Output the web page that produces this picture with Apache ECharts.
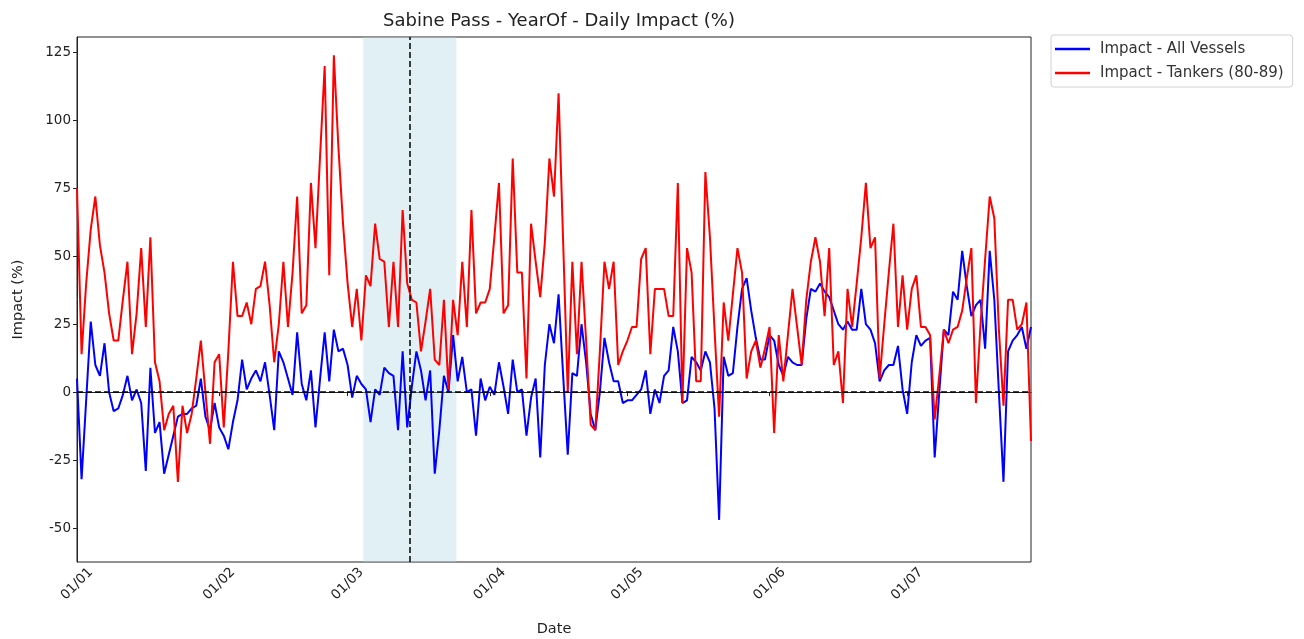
<!DOCTYPE html>
<html>
<head>
<meta charset="utf-8">
<script src="https://cdn.jsdelivr.net/npm/echarts@6/dist/echarts.min.js"></script>
<style>
html,body{margin:0;padding:0;background:#fff;}
#chart{width:1304px;height:639px;}
</style>
</head>
<body>
<div id="chart"></div>
<script>
// ---- data ----
const startYear = 2023, startMonth = 0, startDay = 1; // first daily point: 2023-01-01
const allVessels = [
  5, -32, -3, 26, 10, 6, 18, 0, -7, -6,
  -1, 6, -3, 1, -4, -29, 9, -15, -11, -30,
  -23, -16, -9, -8, -8, -6, -5, 5, -9, -14,
  -4, -13, -16, -21, -11, -3, 12, 1, 5, 8,
  4, 11, -1, -14, 15, 11, 5, -1, 22, 3,
  -3, 8, -13, 5, 22, 4, 23, 15, 16, 10,
  -2, 6, 3, 1, -11, 1, -1, 9, 7, 6,
  -14, 15, -13, 2, 15, 8, -3, 8, -30, -14,
  6, 0, 21, 4, 13, 0, 1, -16, 5, -3,
  2, -1, 11, 2, -8, 12, 0, 1, -16, -2,
  5, -24, 10, 25, 18, 36, 6, -23, 7, 6,
  25, 11, -8, -14, 0, 20, 11, 4, 4, -4,
  -3, -3, -1, 1, 8, -8, 1, -4, 6, 8,
  24, 15, -4, -3, 13, 11, 8, 15, 11, -6,
  -47, 13, 6, 7, 24, 38, 42, 30, 20, 12,
  12, 21, 19, 10, 6, 13, 11, 10, 10, 27,
  38, 37, 40, 37, 35, 30, 25, 23, 26, 23,
  23, 38, 25, 23, 18, 4, 8, 10, 10, 17,
  1, -8, 11, 21, 17, 19, 20, -24, 0, 23,
  21, 37, 34, 52, 39, 28, 32, 34, 16, 52,
  34, 0, -33, 15, 19, 21, 24, 16, 24
];
const tankers = [
  75, 14, 40, 60, 72, 54, 44, 29, 19, 19,
  34, 48, 14, 29, 53, 24, 57, 11, 4, -14,
  -8, -5, -33, -5, -15, -8, 5, 19, 0, -19,
  11, 14, -13, 15, 48, 28, 28, 33, 25, 38,
  39, 48, 32, 11, 25, 48, 24, 44, 72, 29,
  32, 77, 53, 87, 120, 43, 124, 90, 62, 40,
  24, 38, 19, 43, 39, 62, 49, 48, 24, 48,
  24, 67, 40, 34, 33, 15, 26, 38, 12, 10,
  34, 1, 34, 21, 48, 24, 67, 29, 33, 33,
  38, 57, 77, 29, 32, 86, 44, 44, 5, 62,
  48, 35, 55, 86, 72, 110, 55, 0, 48, 14,
  48, 19, -12, -14, 15, 48, 38, 48, 10, 15,
  19, 24, 24, 49, 53, 14, 38, 38, 38, 28,
  28, 77, -4, 53, 44, 4, 4, 81, 57, 23,
  -9, 33, 19, 36, 53, 44, 5, 15, 19, 9,
  16, 24, -15, 21, 4, 21, 38, 24, 10, 34,
  48, 57, 48, 28, 53, 10, 15, -4, 38, 24,
  40, 57, 77, 53, 57, 5, 25, 44, 62, 24,
  43, 23, 38, 43, 24, 24, 21, -10, 6, 23,
  18, 23, 24, 30, 42, 53, -4, 25, 49, 72,
  64, 23, -5, 34, 34, 23, 25, 33, -18
];
const monthTicks = ['2023-01-01','2023-02-01','2023-03-01','2023-04-01','2023-05-01','2023-06-01','2023-07-01'];
const tickLabels = ['01/01','01/02','01/03','01/04','01/05','01/06','01/07'];
const yTicks = [-50, -25, 0, 25, 50, 75, 100, 125];
const eventDate = '2023-03-14 15:00';
const windowStart = '2023-03-04 10:00';
const windowEnd = '2023-03-24 17:00';
const seriesNames = ['Impact - All Vessels', 'Impact - Tankers (80-89)'];
const titleText = 'Sabine Pass - YearOf - Daily Impact (%)';

// ---- build ----
function dayTs(i){ return new Date(startYear, startMonth, startDay + i).getTime(); }
const blueData = allVessels.map((v,i)=>[dayTs(i), v]);
const redData = tankers.map((v,i)=>[dayTs(i), v]);
const tickTs = monthTicks.map(s=>{const p=s.split('-');return new Date(+p[0],+p[1]-1,+p[2]).getTime();});
function parseLocal(s){const [d,t]=s.split(' ');const p=d.split('-');const q=t.split(':');return new Date(+p[0],+p[1]-1,+p[2],+q[0],+q[1]).getTime();}

const FONT = 'DejaVu Sans';
const chart = echarts.init(document.getElementById('chart'), null, {renderer:'canvas'});
chart.setOption({
  animation:false,
  backgroundColor:'#fff',
  textStyle:{fontFamily:FONT},
  title:{
    text:titleText, left:554, top:7, textAlign:'center',
    textStyle:{fontFamily:FONT, fontSize:18, fontWeight:'normal', color:'#222'}
  },
  legend:{
    orient:'vertical', left:1051, top:35,
    padding:[5,9,5,4], itemGap:6, itemWidth:35, itemHeight:2.5,
    icon:'rect',
    borderColor:'#d0d0d0', borderWidth:1, borderRadius:3,
    textStyle:{fontFamily:FONT, fontSize:15, color:'#333', padding:[0,0,0,5], lineHeight:18},
    data:seriesNames
  },
  grid:{left:77, right:273, top:37, bottom:77, containLabel:false, outerBoundsMode:'none',
        show:true, borderColor:'#222', borderWidth:1, backgroundColor:'transparent'},
  xAxis:{
    type:'value',
    min:dayTs(0), max:dayTs(allVessels.length-1),
    name:'Date', nameLocation:'middle', nameGap:60,
    nameTextStyle:{fontFamily:FONT, fontSize:14.5, color:'#222'},
    axisLine:{show:true, lineStyle:{color:'#222', width:1}},
    axisTick:{show:true, length:4, customValues:tickTs, lineStyle:{color:'#222'}},
    axisLabel:{
      customValues:tickTs, rotate:45, margin:22, align:'center', verticalAlign:'middle',
      fontFamily:FONT, fontSize:13.5, color:'#222',
      formatter:function(v){ const k=tickTs.indexOf(v); return k>=0?tickLabels[k]:''; }
    },
    splitLine:{show:false}
  },
  yAxis:{
    type:'value', min:-62.5, max:130.7,
    name:'Impact (%)', nameLocation:'middle', nameGap:51, nameRotate:90,
    nameTextStyle:{fontFamily:FONT, fontSize:14.5, color:'#222'},
    axisLine:{show:true, lineStyle:{color:'#222', width:1}},
    axisTick:{show:true, length:4, customValues:yTicks, lineStyle:{color:'#222'}},
    axisLabel:{customValues:yTicks, margin:6, fontFamily:FONT, fontSize:13.5, color:'#222'},
    splitLine:{show:false}
  },
  series:[
    {
      name:seriesNames[0], type:'line', data:blueData, symbol:'none', showSymbol:false,
      lineStyle:{color:'#0000ff', width:2}, itemStyle:{color:'#0000ff'},
      z:2,
      markArea:{
        silent:true, itemStyle:{color:'rgba(173,216,230,0.38)'},
        data:[[{xAxis:parseLocal(windowStart)},{xAxis:parseLocal(windowEnd)}]]
      },
      markLine:{
        silent:true, symbol:'none', label:{show:false},
        lineStyle:{color:'#000', width:1.5, type:[6,3]},
        data:[{yAxis:0},{xAxis:parseLocal(eventDate)}]
      }
    },
    {
      name:seriesNames[1], type:'line', data:redData, symbol:'none', showSymbol:false,
      lineStyle:{color:'#ff0000', width:2}, itemStyle:{color:'#ff0000'},
      z:3
    }
  ]
});
</script>
</body>
</html>
